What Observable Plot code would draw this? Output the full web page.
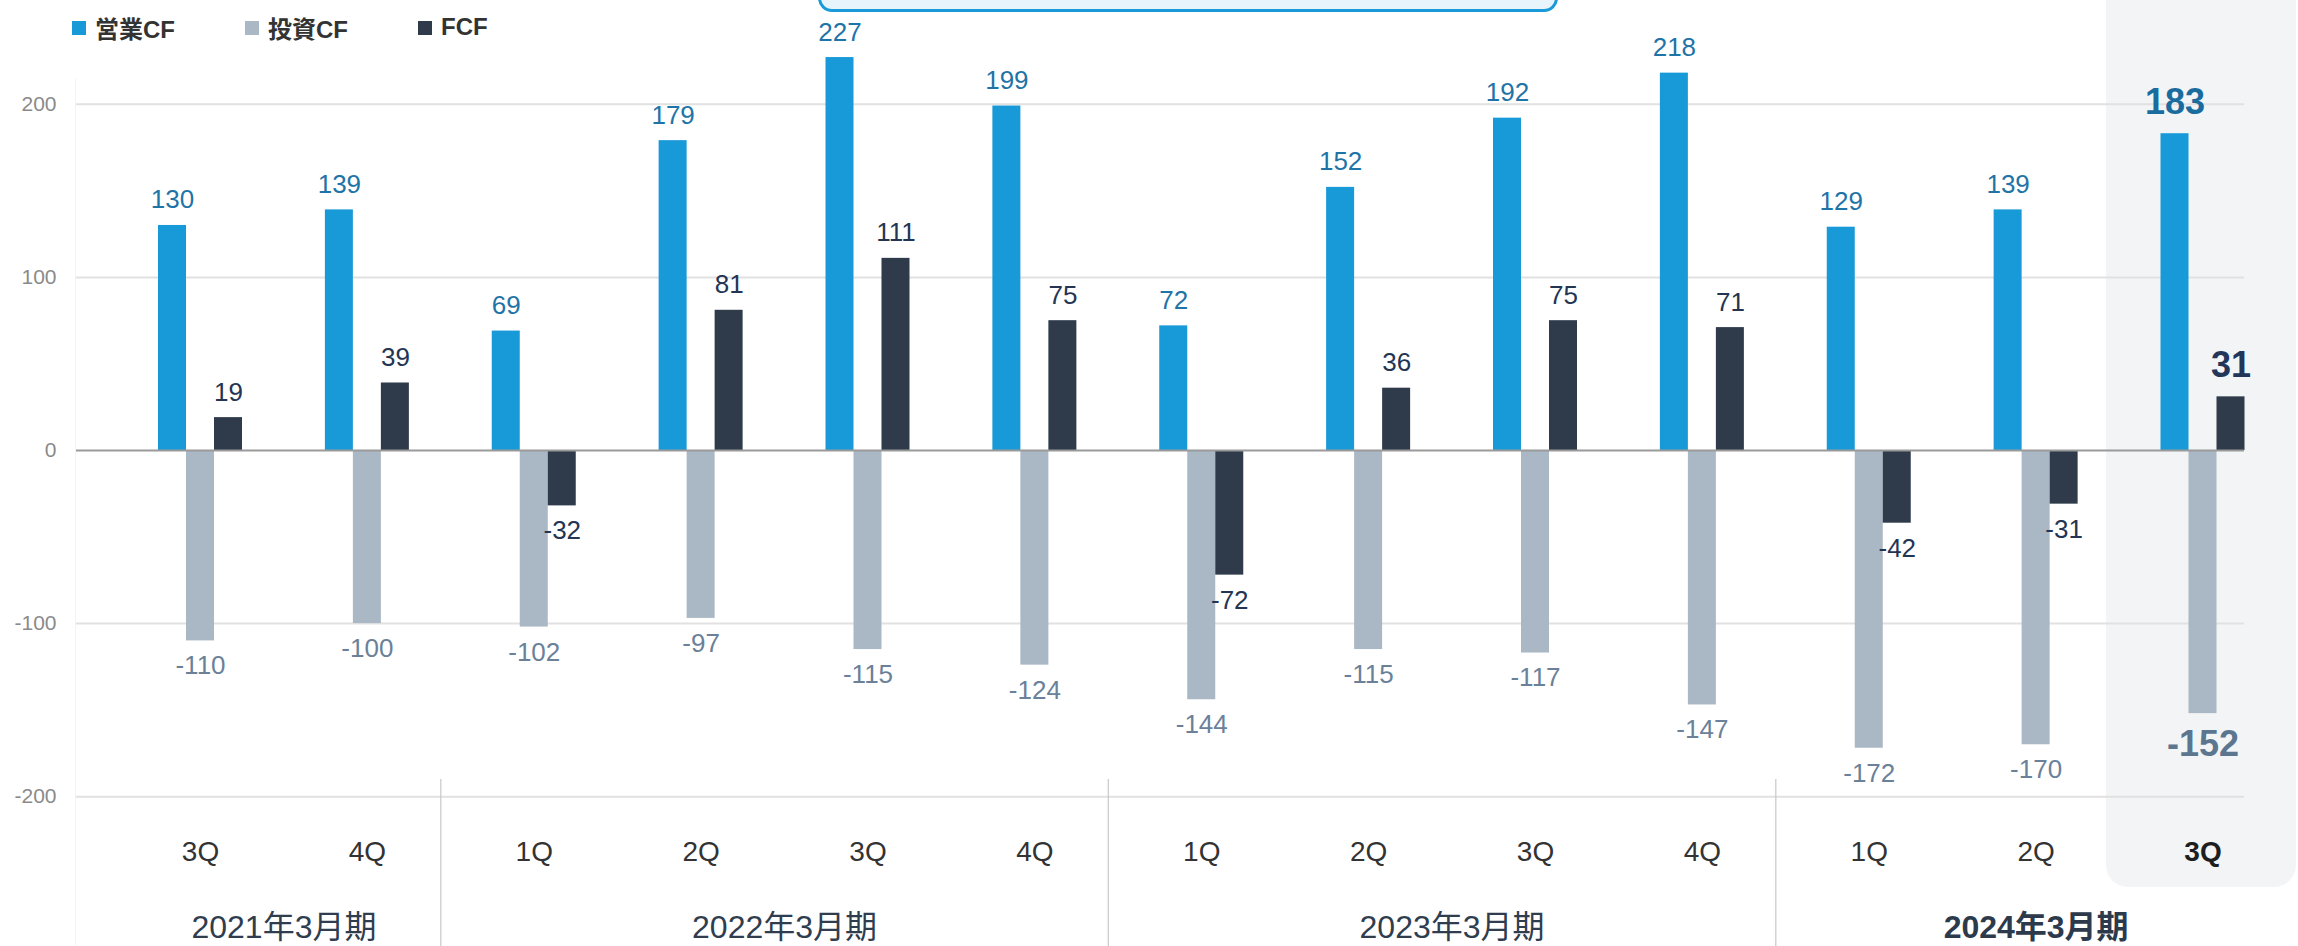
<!DOCTYPE html>
<html>
<head>
<meta charset="utf-8">
<script src="https://cdn.jsdelivr.net/npm/d3@7"></script>
<script src="https://cdn.jsdelivr.net/npm/@observablehq/plot@0.6"></script>
<style>
  html, body { margin: 0; padding: 0; background: #fff; }
  body { font-family: 'Liberation Sans', Arial, 'Noto Sans CJK JP', sans-serif; }
  #wrap { position: relative; width: 2298px; height: 946px; overflow: hidden; }
  #shade { position: absolute; left: 2106px; top: -30px; width: 190px; height: 917px; background: #f2f4f6; border-radius: 22px; }
  #leftline { position: absolute; left: 75px; top: 78px; width: 1px; height: 868px; background: #f4f4f4; }
  #chart { position: absolute; left: 0; top: 0; }
  #callout { position: absolute; left: 818px; top: -40px; width: 740px; height: 52px; box-sizing: border-box;
             border: 3px solid #1a9ad9; border-radius: 14px; background: #e8f4fc; }
  .leg { position: absolute; top: 12px; display: flex; align-items: center; height: 30px;
         font-size: 24px; font-weight: bold; color: #333; }
  .leg .sw { width: 14px; height: 14px; margin-right: 9px; margin-top: 2px; }
</style>
</head>
<body>
<div id="wrap">
  <div id="shade"></div>
  <div id="leftline"></div>
  <div id="chart"></div>
  <div id="callout"></div>
  <div id="legend"></div>
</div>
<script>
// ---- data ----
const quarters = ["3Q","4Q","1Q","2Q","3Q","4Q","1Q","2Q","3Q","4Q","1Q","2Q","3Q"];
const quarterFiscalYear = ["2021年3月期","2021年3月期",
  "2022年3月期","2022年3月期","2022年3月期","2022年3月期",
  "2023年3月期","2023年3月期","2023年3月期","2023年3月期",
  "2024年3月期","2024年3月期","2024年3月期"];
const fiscalYears = ["2021年3月期","2022年3月期","2023年3月期","2024年3月期"];
const seriesNames = ["営業CF","投資CF","FCF"];
const operatingCF = [130, 139, 69, 179, 227, 199, 72, 152, 192, 218, 129, 139, 183];
const investingCF = [-110, -100, -102, -97, -115, -124, -144, -115, -117, -147, -172, -170, -152];
const freeCF = [19, 39, -32, 81, 111, 75, -72, 36, 75, 71, -42, -31, 31];
const yTicks = [-200, -100, 0, 100, 200];

// ---- styles / layout ----
const W = 2298, H = 946;
const xRange = [200, 2202.5];
const step = (xRange[1] - xRange[0]) / (quarters.length - 1);
const barW = 28 / step;
const last = quarters.length - 1;
const font = "'Liberation Sans', Arial, 'Noto Sans CJK JP', sans-serif";

const series = [
  {name: seriesNames[0], values: operatingCF, fill: "#1899d8", label: "#1f74a7", labelHL: "#1a6c9f", offset: -1},
  {name: seriesNames[1], values: investingCF, fill: "#aab7c4", label: "#6a8199", labelHL: "#5d7690", offset: 0},
  {name: seriesNames[2], values: freeCF, fill: "#2f3b4b", label: "#243553", labelHL: "#22365a", offset: 1}
];

// legend
const legend = document.getElementById("legend");
const legX = [72, 245, 418];
series.forEach((s, k) => {
  const d = document.createElement("div");
  d.className = "leg";
  d.style.left = legX[k] + "px";
  d.innerHTML = `<div class="sw" style="background:${s.fill}"></div><span>${s.name}</span>`;
  legend.appendChild(d);
});

const marks = [];
// gridlines
marks.push(Plot.ruleY(yTicks.filter(t => t !== 0), {stroke: "#e1e1e1", strokeWidth: 2}));
// bars
series.forEach(s => {
  const rows = s.values.map((v, i) => ({i, v}));
  marks.push(Plot.rect(rows, {
    x1: d => d.i + (s.offset - 0.5) * barW,
    x2: d => d.i + (s.offset + 0.5) * barW,
    y1: d => 0, y2: d => d.v, fill: s.fill
  }));
});
// zero line
marks.push(Plot.ruleY([0], {stroke: "#9a9a9a", strokeWidth: 2}));
// value labels
series.forEach(s => {
  const rows = s.values.map((v, i) => ({i, v}));
  const xf = d => d.i + s.offset * barW;
  const txt = d => String(d.v);
  const normal = rows.filter(d => d.i !== last);
  const hl = rows.filter(d => d.i === last);
  marks.push(Plot.text(normal.filter(d => d.v >= 0), {x: xf, y: "v", text: txt, lineAnchor: "bottom", dy: -17, fill: s.label, fontSize: 26}));
  marks.push(Plot.text(normal.filter(d => d.v < 0), {x: xf, y: "v", text: txt, lineAnchor: "top", dy: 15, fill: s.label, fontSize: 26}));
  marks.push(Plot.text(hl.filter(d => d.v >= 0), {x: xf, y: "v", text: txt, lineAnchor: "bottom", dy: -20, fill: s.labelHL, fontSize: 36, fontWeight: "bold"}));
  marks.push(Plot.text(hl.filter(d => d.v < 0), {x: xf, y: "v", text: txt, lineAnchor: "top", dy: 17, fill: s.labelHL, fontSize: 36, fontWeight: "bold"}));
});
// quarter labels
const qRows = quarters.map((q, i) => ({q, i}));
marks.push(Plot.text(qRows.filter(d => d.i !== last), {x: "i", text: "q", frameAnchor: "bottom", lineAnchor: "bottom", dy: -86, fontSize: 28, fill: "#333"}));
marks.push(Plot.text(qRows.filter(d => d.i === last), {x: "i", text: "q", frameAnchor: "bottom", lineAnchor: "bottom", dy: -86, fontSize: 28, fontWeight: "bold", fill: "#1e1e1e"}));
// fiscal year labels
const yRows = fiscalYears.map((fy, k) => {
  const idx = quarterFiscalYear.map((f, i) => f === fy ? i : -1).filter(i => i >= 0);
  return {fy, x: d3.mean(idx), bold: k === fiscalYears.length - 1};
});
marks.push(Plot.text(yRows.filter(d => !d.bold), {x: "x", text: "fy", frameAnchor: "bottom", lineAnchor: "bottom", dy: -9, fontSize: 32, fill: "#2f3d4f"}));
marks.push(Plot.text(yRows.filter(d => d.bold), {x: "x", text: "fy", frameAnchor: "bottom", lineAnchor: "bottom", dy: -9, fontSize: 32, fontWeight: "bold", fill: "#2c3a4c"}));
// fiscal year separators
const seps = quarterFiscalYear.map((f, i) => (i > 0 && f !== quarterFiscalYear[i - 1]) ? i - 0.5 : null).filter(v => v !== null);
marks.push(Plot.ruleX(seps, {x: d => d, insetTop: 779, dx: -10, stroke: "#c8c8c8", strokeWidth: 1.2}));

const chart = Plot.plot({
  width: W, height: H,
  marginLeft: 76, marginRight: 54, marginTop: 0, marginBottom: 0,
  style: {fontSize: "21px", fontFamily: font, color: "#8a8a8a", background: "transparent", overflow: "visible"},
  x: {type: "linear", domain: [0, last], range: xRange, axis: null},
  y: {domain: [-200, 200], range: [796.2, 103.8], ticks: yTicks, tickSize: 0, tickPadding: 20, label: null, tickFormat: d => String(d)},
  marks
});
document.getElementById("chart").appendChild(chart);
</script>
</body>
</html>
